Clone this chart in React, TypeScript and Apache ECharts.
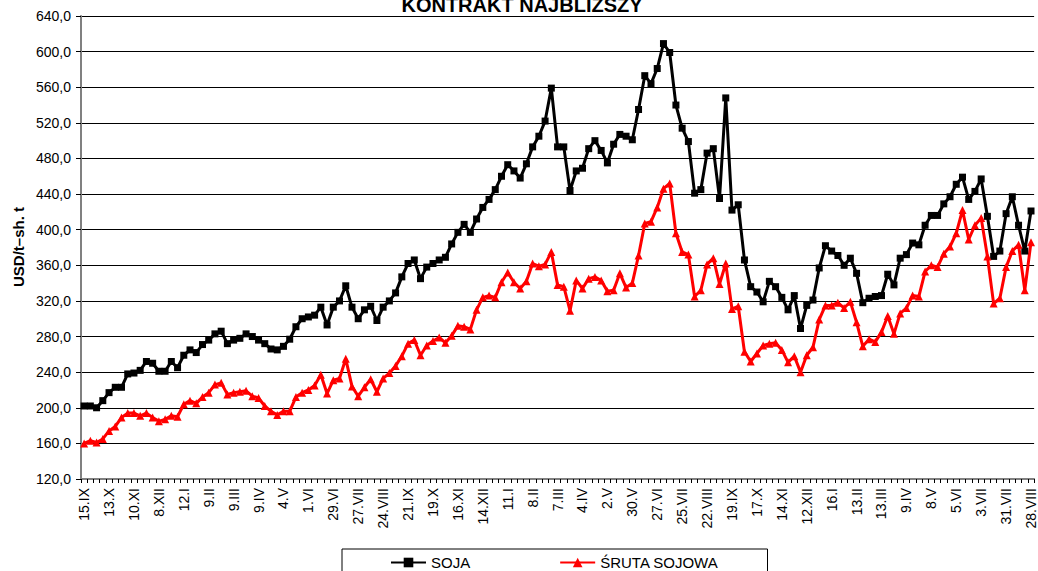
import React, { useEffect, useRef } from 'react';
import * as echarts from 'echarts';

const TITLE = 'KONTRAKT NAJBLIŻSZY';
const Y_NAME = 'USD/t–sh. t';
const SERIES_NAMES = ['SOJA', 'ŚRUTA SOJOWA'];

const TICK_LABELS = [
  '15.IX', '13.X', '10.XI', '8.XII', '12.I', '9.II', '9.III', '9.IV', '4.V', '1.VI',
  '29.VI', '27.VII', '24.VIII', '21.IX', '19.X', '16.XI', '14.XII', '11.I', '8.II', '7.III',
  '4.IV', '2.V', '30.V', '27.VI', '25.VII', '22.VIII', '19.IX', '17.X', '14.XI', '12.XII',
  '16.I', '13.II', '13.III', '9.IV', '8.V', '5.VI', '3.VII', '31.VII', '28.VIII',
];

const SOJA = [
  202, 202, 200, 208, 217, 223, 223, 238, 239, 242,
  252, 250, 241, 241, 252, 245, 259, 265, 262, 271,
  276, 283, 286, 272, 276, 278, 283, 280, 276, 272,
  266, 265, 269, 277, 291, 300, 302, 304, 313, 293,
  313, 320, 337, 313, 300, 310, 314, 298, 313, 320,
  329, 347, 362, 366, 345, 358, 362, 366, 369, 384,
  397, 406, 397, 412, 425, 434, 445, 460, 473, 466,
  458, 474, 493, 505, 522, 559, 493, 493, 444, 466,
  469, 491, 500, 489, 475, 496, 507, 505, 501, 535,
  573, 564, 581, 609, 599, 540, 514, 499, 441, 445,
  486, 491, 435, 548, 422, 428, 366, 336, 330, 319,
  342, 336, 324, 310, 326, 289, 315, 321, 357, 382,
  376, 371, 360, 368, 351, 318, 323, 325, 326, 350,
  338, 368, 372, 385, 383, 405, 416, 416, 429, 437,
  451, 459, 434, 443, 457, 415, 370, 376, 418, 437,
  405, 376, 421,
];

const SRUTA = [
  160, 163, 161, 165, 174, 179, 189, 194, 194, 191,
  194, 189, 185, 187, 191, 190, 204, 208, 205, 212,
  217, 226, 228, 215, 217, 218, 219, 213, 211, 202,
  196, 192, 196, 196, 212, 217, 220, 225, 237, 216,
  231, 233, 255, 224, 213, 223, 232, 218, 233, 239,
  247, 258, 272, 276, 259, 270, 275, 279, 273, 281,
  292, 291, 288, 310, 324, 326, 324, 341, 352, 341,
  334, 342, 362, 359, 361, 375, 338, 336, 309, 343,
  334, 345, 347, 343, 331, 332, 351, 335, 340, 371,
  407, 409, 425, 446, 452, 396, 375, 372, 325, 332,
  361, 368, 339, 362, 311, 314, 263, 252, 261, 270,
  272, 273, 265, 251, 258, 240, 259, 268, 299, 315,
  315, 318, 312, 319, 296, 269, 277, 274, 285, 303,
  283, 306, 312, 326, 325, 353, 360, 358, 373, 381,
  396, 422, 389, 405, 413, 370, 317, 323, 358, 376,
  383, 332, 386,
];

const Y_MIN = 120;
const Y_MAX = 640;
const Y_STEP = 40;

const FONT = "'Liberation Sans', Arial, sans-serif";

export default function App() {
  const ref = useRef<HTMLDivElement>(null);

  useEffect(() => {
    if (!ref.current) return;
    const chart = echarts.init(ref.current, null, { renderer: 'svg' });
    const categories = SOJA.map((_, i) =>
      i % 4 === 0 ? TICK_LABELS[i / 4] : `${TICK_LABELS[Math.floor(i / 4)]}#${i % 4}`
    );

    chart.setOption({
      animation: false,
      backgroundColor: '#ffffff',
      title: {
        text: TITLE,
        left: 517,
        top: -10,
        textAlign: 'center',
        textStyle: { fontFamily: FONT, fontSize: 20, fontWeight: 'bold', color: '#000' },
      },
      graphic: [
        {
          type: 'text',
          x: 18,
          y: 247,
          rotation: Math.PI / 2,
          style: {
            text: Y_NAME,
            fontFamily: FONT,
            fontSize: 15,
            fontWeight: 'bold',
            fill: '#000',
            textAlign: 'center',
            textVerticalAlign: 'middle',
          },
        },
      ],
      legend: {
        data: SERIES_NAMES,
        left: 342,
        top: 549,
        padding: [6, 49, 20, 48],
        itemGap: 89,
        itemWidth: 35,
        itemHeight: 12,
        borderColor: '#000',
        borderWidth: 1,
        textStyle: { fontFamily: FONT, fontSize: 15, color: '#000' },
      },
      grid: { left: 81, right: 1, top: 16, bottom: 92, containLabel: false },
      xAxis: {
        type: 'category',
        data: categories,
        boundaryGap: true,
        axisLine: { show: true, lineStyle: { color: '#808080', width: 2 } },
        axisTick: { show: true, interval: 0, length: 4, lineStyle: { color: '#000' } },
        axisLabel: {
          interval: 3,
          rotate: 90,
          margin: 9,
          fontFamily: FONT,
          fontSize: 14,
          color: '#000',
        },
        splitLine: { show: false },
      },
      yAxis: {
        type: 'value',
        min: Y_MIN,
        max: Y_MAX,
        interval: Y_STEP,
        axisLine: { show: true, lineStyle: { color: '#808080', width: 2 } },
        axisTick: { show: true, length: 5, lineStyle: { color: '#000' } },
        axisLabel: {
          margin: 10,
          fontFamily: FONT,
          fontSize: 14,
          color: '#000',
          formatter: (v: number) => v.toFixed(1).replace('.', ','),
        },
        splitLine: { show: true, lineStyle: { color: '#000', width: 1 } },
      },
      series: [
        {
          name: SERIES_NAMES[0],
          type: 'line',
          data: SOJA,
          color: '#000000',
          symbol: 'rect',
          symbolSize: 7,
          showAllSymbol: true,
          lineStyle: { color: '#000000', width: 3 },
          itemStyle: { color: '#000000' },
        },
        {
          name: SERIES_NAMES[1],
          type: 'line',
          data: SRUTA,
          color: '#ff0000',
          symbol: 'triangle',
          symbolSize: 8,
          showAllSymbol: true,
          lineStyle: { color: '#ff0000', width: 3 },
          itemStyle: { color: '#ff0000' },
        },
      ],
    });

    return () => chart.dispose();
  }, []);

  return (
    <div
      ref={ref}
      style={{ position: 'absolute', left: 0, top: 0, width: 1038, height: 571 }}
    />
  );
}
